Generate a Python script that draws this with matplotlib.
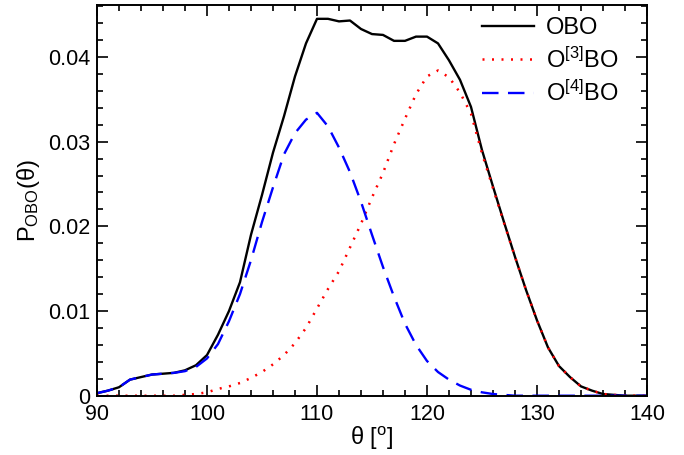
import numpy as np
import matplotlib
matplotlib.use("Agg")
import matplotlib.pyplot as plt
from matplotlib.ticker import MultipleLocator

theta = list(range(90, 141))

obo = [0.0003, 0.0006, 0.0010, 0.0019, 0.0022, 0.0025, 0.0026, 0.0027, 0.0030, 0.0036,
       0.0048, 0.0072, 0.0100, 0.0134, 0.0190, 0.0237, 0.0287, 0.0330, 0.0377, 0.0416,
       0.0445, 0.0445, 0.0442, 0.0443, 0.0433, 0.0427, 0.0426, 0.0419, 0.0419, 0.0424,
       0.0424, 0.0416, 0.0396, 0.0373, 0.0341, 0.0290, 0.0247, 0.0205, 0.0164, 0.0125,
       0.0089, 0.0057, 0.0035, 0.0022, 0.0011, 0.0006, 0.0002, 0.0001, 0.0, 0.0, 0.0]

o3bo = [0.0, 0.0, 0.0, 0.0, 0.0, 0.0, 0.0, 0.0, 0.0001, 0.0002,
        0.0004, 0.0008, 0.0011, 0.0015, 0.0021, 0.0028, 0.0037, 0.0048, 0.0062, 0.0080,
        0.0103, 0.0126, 0.0147, 0.0175, 0.0203, 0.0234, 0.0263, 0.0297, 0.0327, 0.0356,
        0.0377, 0.0384, 0.0376, 0.0358, 0.0333, 0.0286, 0.0245, 0.0204, 0.0164, 0.0125,
        0.0089, 0.0057, 0.0035, 0.0022, 0.0011, 0.0006, 0.0002, 0.0001, 0.0, 0.0, 0.0]

o4bo = [0.0003, 0.0006, 0.0010, 0.0019, 0.0022, 0.0025, 0.0026, 0.0027, 0.0029, 0.0034,
        0.0044, 0.0061, 0.0088, 0.0120, 0.0160, 0.0205, 0.0246, 0.0285, 0.0310, 0.0326,
        0.0334, 0.0318, 0.0293, 0.0264, 0.0229, 0.0190, 0.0152, 0.0117, 0.0085, 0.0060,
        0.0041, 0.0028, 0.0019, 0.0012, 0.0007, 0.0004, 0.0002, 0.0001, 0.0, 0.0,
        0.0, 0.0, 0.0, 0.0, 0.0, 0.0, 0.0, 0.0, 0.0, 0.0, 0.0]

labels = ["OBO", "O$^{[3]}$BO", "O$^{[4]}$BO"]

plt.rcParams['font.family'] = ['Liberation Sans', 'DejaVu Sans']
plt.rcParams['mathtext.fontset'] = 'custom'
plt.rcParams['mathtext.rm'] = 'Liberation Sans'
plt.rcParams['mathtext.it'] = 'Liberation Sans'

fig = plt.figure(figsize=(6.84, 4.55), dpi=100)
ax = fig.add_axes([0.1418, 0.1303, 0.8041, 0.8581])

ax.plot(theta, obo, color='black', lw=1.7, label=labels[0])
ax.plot(theta, o3bo, color='red', lw=1.8, linestyle=(0, (0.8, 3.0)), label=labels[1])
ax.plot(theta, o4bo, color='blue', lw=1.7, linestyle=(0, (7, 4)), label=labels[2])

ax.set_xlim(90, 140)
ax.set_ylim(0, 0.0461)
ax.xaxis.set_major_locator(MultipleLocator(10))
ax.xaxis.set_minor_locator(MultipleLocator(2))
ax.yaxis.set_major_locator(MultipleLocator(0.01))
ax.yaxis.set_minor_locator(MultipleLocator(0.002))
ax.yaxis.set_major_formatter(matplotlib.ticker.FuncFormatter(lambda v, p: "0" if abs(v) < 1e-9 else f"{v:.2f}"))
ax.tick_params(which='both', direction='in', top=True, right=True, labelsize=15.5, width=1.2)
ax.tick_params(which='major', length=8)
ax.tick_params(axis='x', which='major', pad=6)
ax.tick_params(axis='y', which='major', pad=5)
ax.tick_params(which='minor', length=4)
for s in ax.spines.values():
    s.set_linewidth(1.4)

ax.set_xlabel(r"θ [$^{\mathrm{o}}$]", fontsize=17, labelpad=0)
ax.set_ylabel(r"P$_{\mathrm{OBO}}$(θ)", fontsize=17, labelpad=4)

leg = ax.legend(loc='upper right', frameon=False, fontsize=17, handlelength=2.2,
                handletextpad=0.5, labelspacing=0.35, borderaxespad=0.1,
                bbox_to_anchor=(0.97, 1.0))

fig.savefig("out.png", dpi=100)
